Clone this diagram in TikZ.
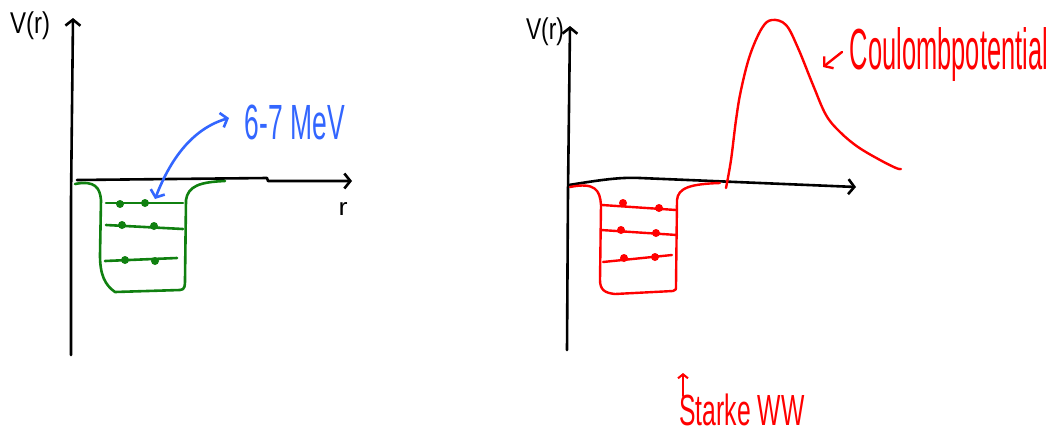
\documentclass[tikz,border=0pt]{standalone}
\usepackage{fontspec}
\usepackage{graphicx}
\setmainfont{Liberation Sans}
\usetikzlibrary{arrows.meta}
\definecolor{hgreen}{RGB}{16,128,16}
\definecolor{hblue}{RGB}{51,102,255}
\definecolor{hred}{RGB}{255,0,0}
\begin{document}
\begin{tikzpicture}[x=1pt,y=-1pt, line cap=round, line join=round,
  ax/.style={line width=2.6pt, black},
  gr/.style={line width=2.6pt, hgreen},
  rd/.style={line width=2.4pt, hred},
  bl/.style={line width=2.6pt, hblue},
  tip/.style={-{Straight Barb[length=6pt,width=15pt,line width=2.6pt]}},
  dtip/.style={{Straight Barb[length=6pt,width=15pt,line width=2.6pt]}-{Straight Barb[length=6pt,width=15pt,line width=2.6pt]}},
  lbl/.style={inner sep=0pt, outer sep=0pt}]
\useasboundingbox (0,0) rectangle (1054,434);

% ---------- left panel ----------
\coordinate (ly0) at (71,355);
\coordinate (ly1) at (73,18);
\draw[ax,tip] (ly0) -- (71,200) -- (ly1);
\coordinate (lx0) at (77,180);
\coordinate (lx1) at (352,181);
\draw[ax,tip] (lx0) -- (267,178) -- (268,181) -- (lx1);
\node[lbl] (lV) at (30,26) {\resizebox*{40pt}{28pt}{V(r)}};
\node[lbl] (lr) at (343,209) {\resizebox*{9pt}{13pt}{r}};

\draw[gr] (75,184) .. controls (95,180) and (100,188) .. (101,200) -- (100,255)
  .. controls (100,275) and (105,285) .. (115,292) -- (180,290)
  .. controls (185,290) and (185,285) .. (185,280) -- (186,200)
  .. controls (188,186) and (200,182) .. (225,181);
\draw[gr] (106,203) -- (183,203);
\draw[gr] (106,225) -- (183,229);
\draw[gr] (105,261) -- (177,258);
\foreach \p in {(120,204),(145,203),(122,225),(154,226),(125,260),(155,261)}
  \fill[hgreen] \p circle (4);

\coordinate (bA) at (155,199);
\coordinate (bB) at (229,118);
\draw[bl,dtip] (bA) .. controls (172,155) and (195,128) .. (bB);
\node[lbl,text=hblue] (mev) at (295,122) {\resizebox*{100pt}{35pt}{6-7 MeV}};

% ---------- right panel ----------
\coordinate (ry0) at (567,350);
\coordinate (ry1) at (570,26);
\draw[ax,tip] (ry0) -- (568,190) -- (ry1);
\coordinate (rx0) at (569,185);
\coordinate (rx1) at (856,187);
\draw[ax,tip] (rx0) .. controls (600,180) and (620,177) .. (640,178) -- (rx1);
\node[lbl] (rV) at (545,32) {\resizebox*{38pt}{28pt}{V(r)}};

\draw[rd] (570,187) .. controls (595,182) and (600,190) .. (601,205) -- (600,280)
  .. controls (600,290) and (605,293) .. (615,294) -- (673,291)
  .. controls (676,290) .. (676,285) -- (677,200)
  .. controls (678,188) and (690,184) .. (720,183);
\draw[rd] (602,205) -- (676,210);
\draw[rd] (601,230) -- (677,235);
\draw[rd] (603,262) -- (672,255);
\foreach \p in {(623,203),(659,208),(621,230),(656,233),(624,258),(655,257)}
  \fill[hred] \p circle (4);

\draw[rd] plot[smooth, tension=0.6] coordinates {(726,188) (731,160) (736,120) (741,90)
  (750,55) (762,28) (772,20) (786,25) (798,48) (813,85) (826,115) (840,132)
  (858,147) (880,160) (896,168) (901,169)};

\coordinate (cA) at (842,52);
\coordinate (cB) at (823,67);
\draw[rd,-{Straight Barb[length=6pt,width=15pt,line width=2.4pt]}] (cA) -- (cB);
\node[lbl,text=hred] (coul) at (949,55) {\resizebox*{198pt}{54pt}{Coulombpotential}};

\coordinate (sA) at (683,396);
\coordinate (sB) at (683,373);
\draw[rd,-{Straight Barb[length=4pt,width=10pt,line width=2pt]},line width=2pt] (sA) -- (sB);
\node[lbl,text=hred] (stark) at (742,410) {\resizebox*{125pt}{32pt}{Starke WW}};
\end{tikzpicture}
\end{document}
